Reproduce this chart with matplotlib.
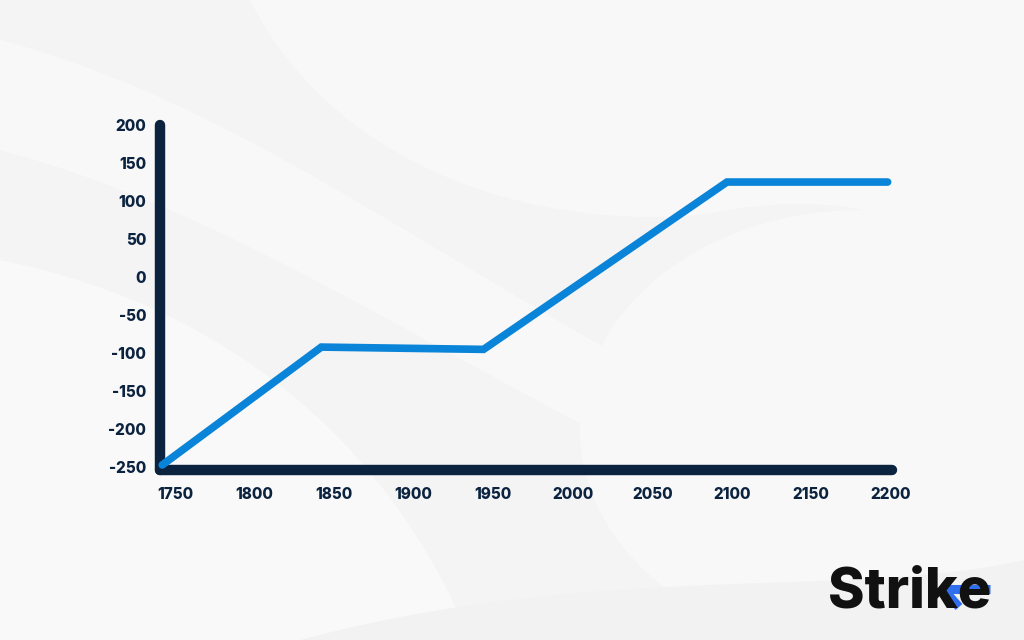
import numpy as np
import matplotlib.pyplot as plt
from matplotlib.patches import Ellipse, Polygon

# data
years = [1742, 1842, 1944, 2097, 2198]
values = [-247, -92, -95, 125, 125]
x_ticks = [1750, 1800, 1850, 1900, 1950, 2000, 2050, 2100, 2150, 2200]
y_ticks = [-250, -200, -150, -100, -50, 0, 50, 100, 150, 200]

navy = "#0c2340"
blue = "#0a84d8"

plt.rcParams['font.family'] = ['Inter', 'DejaVu Sans']
plt.rcParams['axes.unicode_minus'] = False

fig = plt.figure(figsize=(10.24, 6.4), dpi=100)
fig.patch.set_facecolor("#f4f4f4")

# soft background swooshes (decoration only)
bg = fig.add_axes([0, 0, 1, 1], zorder=0)
bg.set_xlim(0, 1024)
bg.set_ylim(640, 0)
bg.axis("off")

t = np.linspace(0, 1, 200)
def bez(p0, p1, p2, p3):
    p0, p1, p2, p3 = map(np.array, (p0, p1, p2, p3))
    return (((1-t)**3)[:, None]*p0 + (3*(1-t)**2*t)[:, None]*p1
            + (3*(1-t)*t**2)[:, None]*p2 + (t**3)[:, None]*p3)

top = bez((250, 0), (330, 160), (520, 230), (700, 215))
top2 = bez((700, 215), (820, 190), (960, 200), (1024, 330))
bg.add_patch(Polygon(np.vstack([[[1024, 0]], [[250, 0]], top, top2]), closed=True,
                     fc="#f8f8f8", ec="none"))

band_a = bez((0, 40), (300, 120), (500, 330), (1024, 560))
band_b = bez((0, 150), (300, 230), (520, 430), (1024, 630))
bg.add_patch(Polygon(np.vstack([band_a, band_b[::-1]]), closed=True,
                     fc="white", ec="none", alpha=0.45))

band_c = bez((0, 260), (200, 300), (380, 420), (470, 640))
bg.add_patch(Polygon(np.vstack([[[0, 640]], band_c, [[470, 640]]]),
                     closed=True, fc="#f9f9f9", ec="none"))
bg.add_patch(Ellipse((860, 430), 560, 440, fc="#f8f8f8", ec="none"))
bottom = bez((300, 640), (600, 560), (850, 600), (1024, 560))
bg.add_patch(Polygon(np.vstack([bottom, [[1024, 640]]]), closed=True,
                     fc="#f2f2f2", ec="none"))

# main chart
ax = fig.add_axes([160/1024, 1-470/640, (892-160)/1024, (470-125)/640], zorder=1)
ax.patch.set_alpha(0)

ax.plot(years, values, color=blue, lw=5.5, solid_capstyle="round",
        solid_joinstyle="miter", zorder=3, clip_on=False)

px_per_year = 1.596
px_per_unit = 0.765
ax.set_xlim(1750 + (160-175)/px_per_year, 1750 + (892-175)/px_per_year + 1.5)
ax.set_ylim((276-470)/px_per_unit, (276-125)/px_per_unit)

ax.set_xticks(x_ticks)
ax.set_yticks(y_ticks)
ax.tick_params(length=0, labelsize=11, labelcolor=navy)
ax.tick_params(axis="x", pad=12)
ax.tick_params(axis="y", pad=10)
for lab in ax.get_xticklabels() + ax.get_yticklabels():
    lab.set_fontweight("heavy")

for side in ["top", "right"]:
    ax.spines[side].set_visible(False)
for side in ["left", "bottom"]:
    ax.spines[side].set_color(navy)
    ax.spines[side].set_linewidth(7.5)
    ax.spines[side].set_capstyle("round")
    ax.spines[side].set_zorder(2)

# logo
fig.text(828/1024, 1-608/640, "Strike", fontsize=40, fontweight="heavy",
         color="#111111", ha="left", va="baseline")
logo_blue = "#2f6fed"
fig.add_artist(plt.Line2D([941/1024, 990/1024], [1-589/640, 1-589/640],
                          color=logo_blue, lw=6.5, solid_capstyle="butt"))
fig.add_artist(plt.Line2D([943/1024, 959/1024], [1-589/640, 1-607/640],
                          color=logo_blue, lw=6.5, solid_capstyle="butt"))

fig.savefig("out.png", dpi=100, facecolor=fig.get_facecolor())
